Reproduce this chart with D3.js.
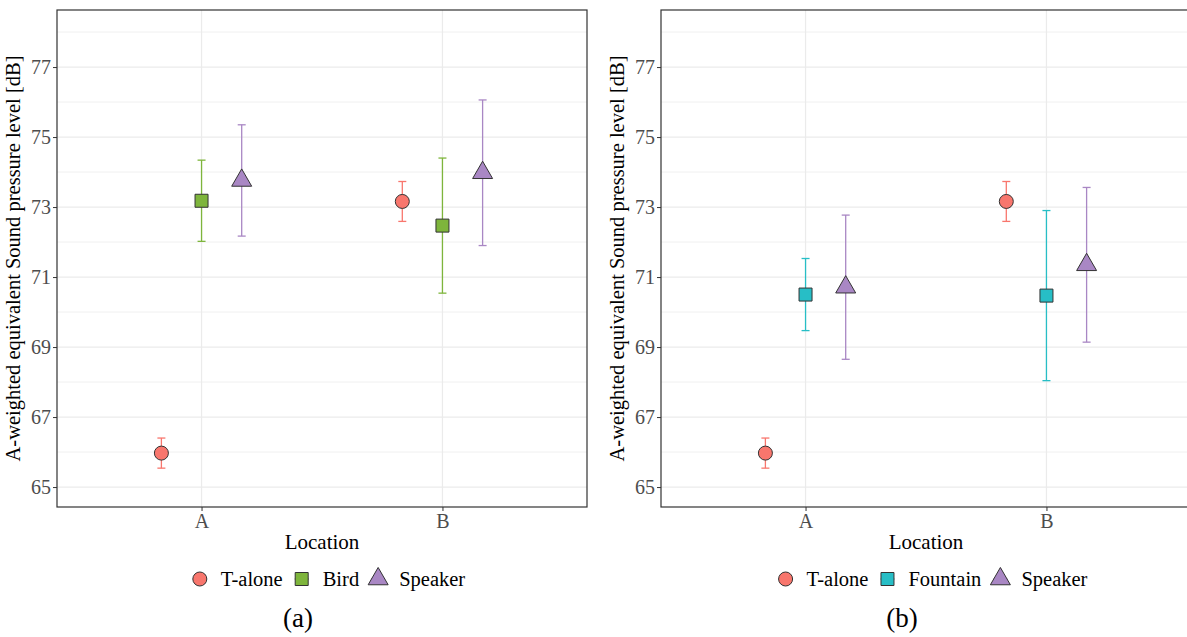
<!DOCTYPE html>
<html>
<head>
	<meta charset="utf-8">
	<title>Sound pressure level by location</title>
	<script src="https://cdn.jsdelivr.net/npm/d3@7"></script>
<style type="text/css">
body { margin: 0; background: #fff; }
</style>
</head>
<body>
<script type="text/javascript">
	var locations = ["A", "B"];
	var yTicks = [65, 67, 69, 71, 73, 75, 77];
	var yMinor = [66, 68, 70, 72, 74, 76, 78];

	// panel (a)
	var groupsA = ["T-alone", "Bird", "Speaker"];
	var meanA = { "T-alone": [65.97, 73.16], "Bird": [73.18, 72.47], "Speaker": [73.76, 73.98] };
	var errA = { "T-alone": [0.43, 0.57], "Bird": [1.16, 1.93], "Speaker": [1.59, 2.08] };

	// panel (b)
	var groupsB = ["T-alone", "Fountain", "Speaker"];
	var meanB = { "T-alone": [65.97, 73.16], "Fountain": [70.50, 70.47], "Speaker": [70.71, 71.35] };
	var errB = { "T-alone": [0.43, 0.57], "Fountain": [1.03, 2.43], "Speaker": [2.06, 2.21] };

	var colors = { "T-alone": "#f8766d", "Bird": "#7eb53c", "Fountain": "#27bec6", "Speaker": "#a987c4" };
	var shapes = { "T-alone": d3.symbolCircle, "Bird": d3.symbolSquare, "Fountain": d3.symbolSquare, "Speaker": d3.symbolTriangle };
	var sizes = { "T-alone": 154, "Bird": 169, "Fountain": 169, "Speaker": 173 };

	var serif = "'Liberation Serif', 'Times New Roman', serif";
	var w = 1187, h = 637;
	var svg = d3.select("body").append("svg").attr("width", w).attr("height", h);

	var pTop = 10, pBottom = 507, pw = 530;
	var y = d3.scaleLinear().domain([64.43, 78.63]).range([pBottom, pTop]);

	function panel(x0, groups, means, errs, tag) {
		var g = svg.append("g");
		var x = d3.scaleLinear().domain([0.4, 2.6]).range([x0, x0 + pw]);
		var clip = "clip" + x0;
		svg.append("clipPath").attr("id", clip).append("rect")
			.attr("x", x0).attr("y", pTop).attr("width", pw).attr("height", pBottom - pTop);
		var inner = g.append("g").attr("clip-path", "url(#" + clip + ")");

		// grid
		inner.selectAll(".minor").data(yMinor).enter().append("line")
			.attr("x1", x0).attr("x2", x0 + pw)
			.attr("y1", d => y(d)).attr("y2", d => y(d))
			.attr("stroke", "#f0f0f0").attr("stroke-width", 1);
		inner.selectAll(".major").data(yTicks).enter().append("line")
			.attr("x1", x0).attr("x2", x0 + pw)
			.attr("y1", d => y(d)).attr("y2", d => y(d))
			.attr("stroke", "#ebebeb").attr("stroke-width", 1.2);
		inner.selectAll(".vmajor").data(locations).enter().append("line")
			.attr("x1", (d, i) => x(i + 1)).attr("x2", (d, i) => x(i + 1))
			.attr("y1", pTop).attr("y2", pBottom)
			.attr("stroke", "#ebebeb").attr("stroke-width", 1.2);

		// error bars + points
		var rows = [];
		groups.forEach(function (gr, gi) {
			locations.forEach(function (loc, li) {
				rows.push({ g: gr, xv: li + 1 + (gi - 1) / 6, m: means[gr][li], e: errs[gr][li] });
			});
		});
		var cap = 4;
		var eb = inner.selectAll(".eb").data(rows).enter().append("g")
			.attr("stroke", d => colors[d.g]).attr("stroke-width", 1.3);
		eb.append("line").attr("x1", d => x(d.xv)).attr("x2", d => x(d.xv))
			.attr("y1", d => y(d.m + d.e)).attr("y2", d => y(d.m - d.e));
		eb.append("line").attr("x1", d => x(d.xv) - cap).attr("x2", d => x(d.xv) + cap)
			.attr("y1", d => y(d.m + d.e)).attr("y2", d => y(d.m + d.e));
		eb.append("line").attr("x1", d => x(d.xv) - cap).attr("x2", d => x(d.xv) + cap)
			.attr("y1", d => y(d.m - d.e)).attr("y2", d => y(d.m - d.e));
		inner.selectAll(".pt").data(rows).enter().append("path")
			.attr("d", d => d3.symbol(shapes[d.g], sizes[d.g])())
			.attr("transform", d => "translate(" + x(d.xv) + "," + y(d.m) + ")")
			.attr("fill", d => colors[d.g]).attr("stroke", "#333").attr("stroke-width", 1);

		// border
		g.append("rect").attr("x", x0).attr("y", pTop).attr("width", pw).attr("height", pBottom - pTop)
			.attr("fill", "none").attr("stroke", "#333").attr("stroke-width", 1.2);

		// axes
		var ya = g.append("g").attr("transform", "translate(" + x0 + ",0)")
			.call(d3.axisLeft(y).tickValues(yTicks).tickSize(4).tickPadding(2));
		ya.select(".domain").remove();
		ya.selectAll("line").attr("stroke", "#333");
		ya.selectAll("text").attr("font-size", 20).attr("fill", "#4d4d4d").style("font-family", serif);

		var xa = g.append("g").attr("transform", "translate(0," + pBottom + ")")
			.call(d3.axisBottom(x).tickValues([1, 2]).tickFormat((d, i) => locations[i]).tickSize(4).tickPadding(3));
		xa.select(".domain").remove();
		xa.selectAll("line").attr("stroke", "#333");
		xa.selectAll("text").attr("font-size", 20).attr("fill", "#4d4d4d").style("font-family", serif);

		var cx = x0 + pw / 2;
		g.append("text").attr("x", cx).attr("y", 549).attr("text-anchor", "middle")
			.attr("font-size", 21).style("font-family", serif).text("Location");
		g.append("text").attr("transform", "translate(" + (x0 - 37) + "," + ((pTop + pBottom) / 2) + ") rotate(-90)")
			.attr("text-anchor", "middle").attr("font-size", 20.5).style("font-family", serif)
			.text("A-weighted equivalent Sound pressure level [dB]");

		// legend
		var lg = g.append("g");
		var cur = 0, end = 0;
		groups.forEach(function (gr) {
			var it = lg.append("g").attr("transform", "translate(" + cur + ",0)");
			it.append("line").attr("x1", -7).attr("x2", 7).attr("stroke", colors[gr]).attr("stroke-width", 1.3);
			it.append("path").attr("d", d3.symbol(shapes[gr], sizes[gr])())
				.attr("fill", colors[gr]).attr("stroke", "#333").attr("stroke-width", 1);
			var t = it.append("text").attr("x", 21).attr("y", 7).attr("font-size", 20.5)
				.style("font-family", serif).text(gr);
			end = cur + 21 + t.node().getComputedTextLength();
			cur = end + 19;
		});
		var lw = end + 7;
		lg.attr("transform", "translate(" + (cx + 7 - lw / 2 + 7) + ",579)");

		g.append("text").attr("x", cx - 24).attr("y", 627).attr("text-anchor", "middle")
			.attr("font-size", 27).style("font-family", serif).text(tag);
	}

	panel(57, groupsA, meanA, errA, "(a)");
	panel(661, groupsB, meanB, errB, "(b)");
</script>
</body>
</html>
